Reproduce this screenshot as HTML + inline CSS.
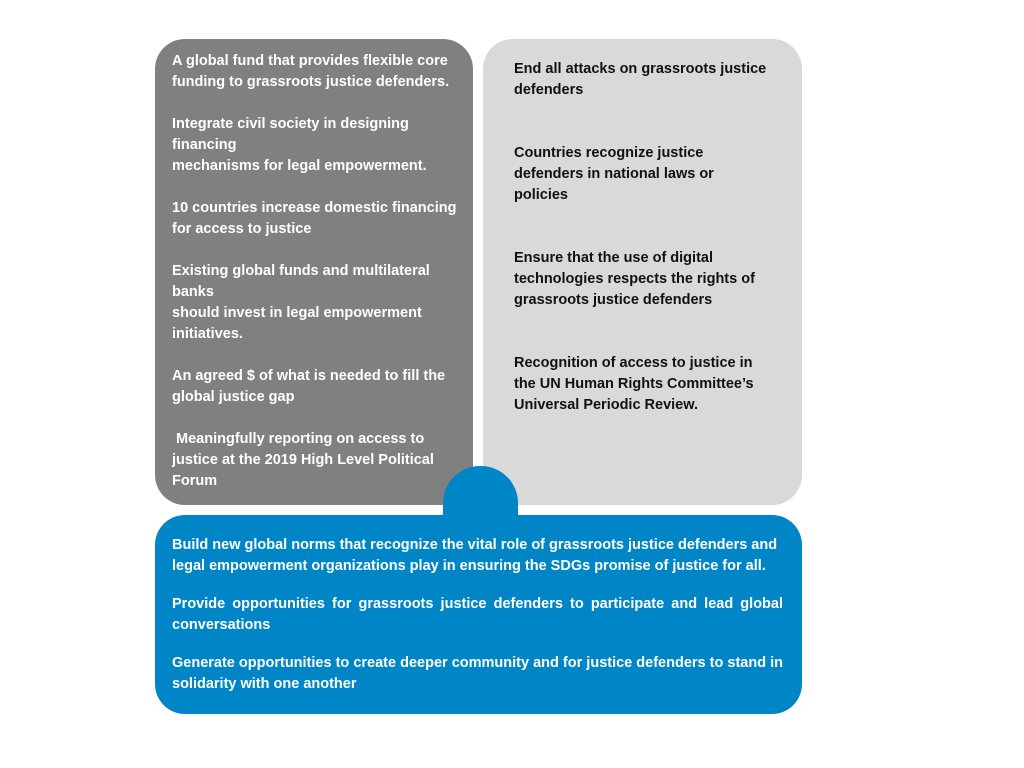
<!DOCTYPE html>
<html><head><meta charset="utf-8"><style>
body{margin:0;width:1024px;height:768px;background:#fff;position:relative;overflow:hidden;font-family:"Liberation Sans",Arial,sans-serif;font-weight:bold;font-size:14.5px}
.b{position:absolute}
.t{position:absolute;line-height:21px;white-space:nowrap}
.w{color:#fff}.k{color:#111}
</style></head><body>
<div class="b" style="left:155px;top:39px;width:318px;height:466px;background:#808080;border-radius:30px"></div>
<div class="b" style="left:483px;top:39px;width:319px;height:466px;background:#d9d9d9;border-radius:30px"></div>
<div class="b" style="left:155px;top:515px;width:647px;height:199px;background:#0086c6;border-radius:30px"></div>
<div class="b" style="left:443px;top:466px;width:75px;height:60px;background:#0086c6;border-radius:37px 37px 0 0"></div>

<div class="t w" style="left:172px;top:51px">A global fund that provides flexible core<br>funding to grassroots justice defenders.</div>
<div class="t w" style="left:172px;top:114px">Integrate civil society in designing<br>financing<br>mechanisms for legal empowerment.</div>
<div class="t w" style="left:172px;top:198px">10 countries increase domestic financing<br>for access to justice</div>
<div class="t w" style="left:172px;top:261px">Existing global funds and multilateral<br>banks<br>should invest in legal empowerment<br>initiatives.</div>
<div class="t w" style="left:172px;top:366px">An agreed $ of what is needed to fill the<br>global justice gap</div>
<div class="t w" style="left:172px;top:429px">&nbsp;Meaningfully reporting on access to<br>justice at the 2019 High Level Political<br>Forum</div>

<div class="t k" style="left:514px;top:59px">End all attacks on grassroots justice<br>defenders</div>
<div class="t k" style="left:514px;top:143px">Countries recognize justice<br>defenders in national laws or<br>policies</div>
<div class="t k" style="left:514px;top:248px">Ensure that the use of digital<br>technologies respects the rights of<br>grassroots justice defenders</div>
<div class="t k" style="left:514px;top:353px">Recognition of access to justice in<br>the UN Human Rights Committee’s<br>Universal Periodic Review.</div>

<div class="t w" style="left:172px;top:535px">Build new global norms that recognize the vital role of grassroots justice defenders and<br>legal empowerment organizations play in ensuring the SDGs promise of justice for all.</div>
<div class="t w" style="left:172px;top:594px;width:611px;white-space:normal;text-align:justify;text-align-last:left">Provide opportunities for grassroots justice defenders to participate and lead global conversations</div>
<div class="t w" style="left:172px;top:653px;width:611px;white-space:normal;text-align:justify;text-align-last:left">Generate opportunities to create deeper community and for justice defenders to stand in solidarity with one another</div>
</body></html>
